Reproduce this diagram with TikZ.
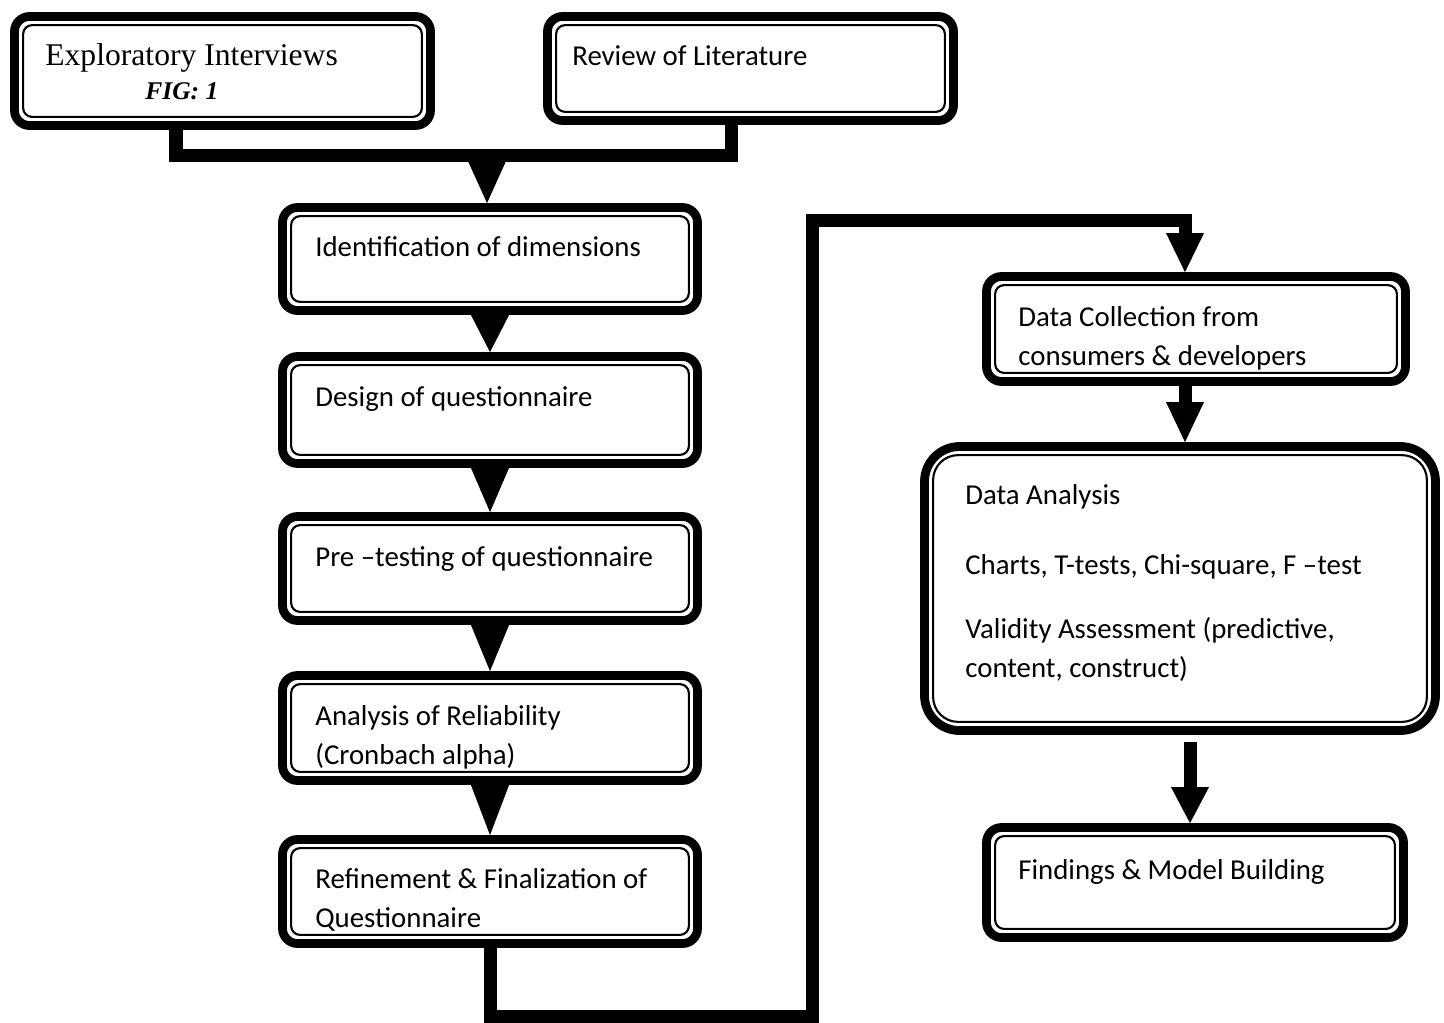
\documentclass[tikz,border=0pt]{standalone}
\usepackage{fontspec}
\setmainfont{Carlito}
\newfontfamily\timesfont{Liberation Serif}
\usetikzlibrary{arrows.meta}

\tikzset{
  stage/.style={draw, line width=5pt, rounded corners=0.3cm, minimum width=8.3cm, minimum height=2.08cm, inner sep=0pt},
  inner line/.style={line width=1.2pt, rounded corners=0.18cm},
  lbl/.style={font=\fontsize{16.4}{21.8}\selectfont, anchor=base west, inner sep=0pt, align=left},
  bar/.style={line width=7.4pt},
  flow/.style={line width=7.4pt, -{Triangle[width=0.76cm, length=#1, line width=0pt]}},
}

\begin{document}
\begin{tikzpicture}
\useasboundingbox (0,0) rectangle (28.88,-20.46);

% boxes
\node[stage, minimum width=8.32cm, minimum height=2.18cm] (expl) at (4.45,-1.42) {};
\node[stage, minimum width=8.12cm] (rev) at (15.01,-1.37) {};
\node[stage, minimum height=2.06cm] (ident) at (9.8,-5.18) {};
\node[stage, minimum height=2.14cm] (design) at (9.8,-8.2) {};
\node[stage] (pretest) at (9.8,-11.37) {};
\node[stage, minimum height=2.1cm] (reliab) at (9.8,-14.56) {};
\node[stage] (refine) at (9.8,-17.83) {};
\node[stage, minimum width=8.38cm, minimum height=2.1cm] (collect) at (23.92,-6.58) {};
\node[stage, minimum width=10.22cm, minimum height=5.68cm, rounded corners=0.7cm] (analysis) at (23.6,-11.77) {};
\node[stage, minimum width=8.34cm, minimum height=2.2cm] (findings) at (23.9,-17.65) {};

% inner lines
\foreach \b in {expl,rev,ident,design,pretest,reliab,refine,collect,findings}
  \draw[inner line] ([shift={(0.26,0.26)}]\b.south west) rectangle ([shift={(-0.26,-0.26)}]\b.north east);
\draw[inner line, rounded corners=0.5cm] ([shift={(0.26,0.26)}]analysis.south west) rectangle ([shift={(-0.26,-0.26)}]analysis.north east);

% texts (multi-line ones sit on their last baseline)
\node[lbl, font=\timesfont\fontsize{18}{22}\selectfont] (expltxt) at (0.9,-1.30) {Exploratory Interviews};
\node[lbl, font=\timesfont\fontsize{14.5}{18}\selectfont\bfseries\itshape] (figtxt) at (2.9,-1.98) {FIG: 1};
\node[lbl] (revtxt) at (11.44,-1.30) {Review of Literature};
\node[lbl] (identtxt) at (6.3,-5.12) {Identification of dimensions};
\node[lbl] (designtxt) at (6.3,-8.12) {Design of questionnaire};
\node[lbl] (pretesttxt) at (6.3,-11.32) {Pre –testing of questionnaire};
\node[lbl] (reliabtxt) at (6.3,-15.28) {Analysis of Reliability\\(Cronbach alpha)};
\node[lbl] (refinetxt) at (6.3,-18.54) {Refinement \& Finalization of\\Questionnaire};
\node[lbl] (collecttxt) at (20.36,-7.30) {Data Collection from\\consumers \& developers};
\node[lbl] (analysistxt) at (19.3,-10.08) {Data Analysis};
\node[lbl] (teststxt) at (19.3,-11.48) {Charts, T-tests, Chi-square, F –test};
\node[lbl] (validtxt) at (19.3,-13.54) {Validity Assessment (predictive,\\content, construct)};
\node[lbl] (findingstxt) at (20.36,-17.58) {Findings \& Model Building};

% connectors
\coordinate (jl) at (3.52,-3.1);
\coordinate (jr) at (14.62,-3.1);
\coordinate (join) at (9.74,-3.1);
\draw[bar] (expl.south -| jl) -- (jl) -- (jr) -- (rev.south -| jr);
\draw[flow=0.84cm] (join) -- (ident.north -| join);

\draw[flow=0.74cm] (ident.south) -- (design.north);
\draw[flow=0.88cm] (design.south) -- (pretest.north);
\draw[flow=0.92cm] (pretest.south) -- (reliab.north);
\draw[flow=1.0cm] (reliab.south) -- (refine.north);

\coordinate (lowturn) at (16.24,-20.32);
\coordinate (highturn) at (16.24,-4.4);
\draw[flow=0.78cm] (refine.south) |- (lowturn) -- (highturn) -| ([xshift=-0.22cm]collect.north);

\coordinate (c1) at ([xshift=-0.22cm]collect.south);
\draw[flow=0.8cm] (c1) -- (c1 |- analysis.north);
\coordinate (c2) at ([xshift=-0.1cm]findings.north);
\coordinate (c3) at (c2 |- analysis.south);
\draw[flow=0.72cm] ([yshift=-0.14cm]c3) -- (c2);
\end{tikzpicture}
\end{document}
